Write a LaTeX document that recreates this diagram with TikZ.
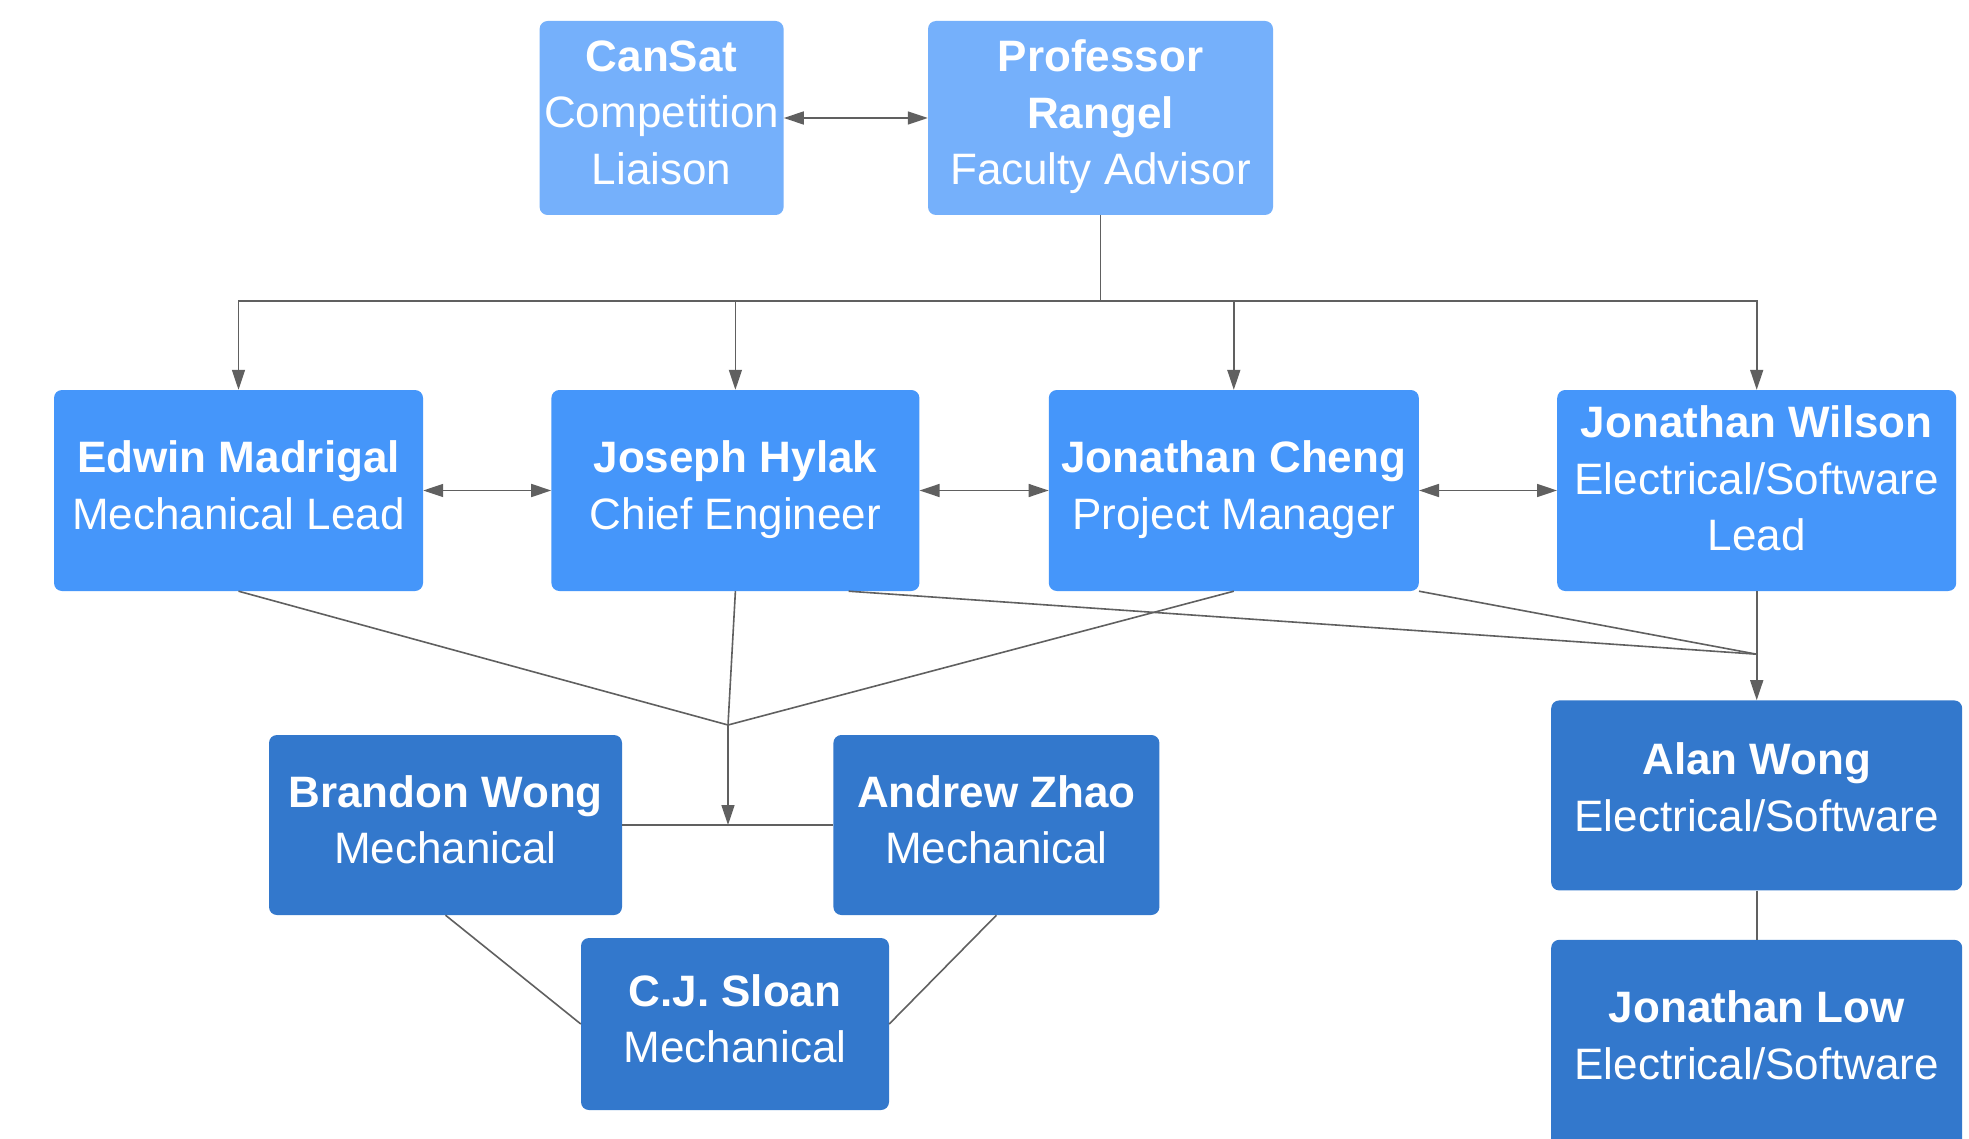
\documentclass[tikz,border=0pt]{standalone}
\usepackage{fontspec}
\setmainfont{Liberation Sans}
\usepackage{xcolor}
\usetikzlibrary{arrows.meta, positioning}

\definecolor{topblue}{RGB}{117,176,251}
\definecolor{leadblue}{RGB}{69,150,250}
\definecolor{teamblue}{RGB}{51,120,204}
\definecolor{linegray}{RGB}{96,96,96}

\begin{document}
\begin{tikzpicture}[
        x=1pt, y=-1pt,
        % Define common styles for nodes
        box/.style={rectangle, rounded corners=8pt, text=white, align=center, inner sep=0pt, font=\fontsize{44}{56.5}\selectfont,
                    execute at end node={\rule[-11pt]{0pt}{0pt}}},
        deep_text/.style={execute at end node={\rule[-#1]{0pt}{0pt}}},
        advisor_box/.style={box, fill=topblue, minimum height=194pt},
        lead_box/.style={box, fill=leadblue, minimum height=201pt},
        member_box/.style={box, fill=teamblue, minimum height=180pt},
        % Styles for the connectors
        link/.style={draw=linegray, line width=1.6pt},
        line/.style={link, -{Triangle[length=20pt, width=13pt]}},
        both_line/.style={link, {Triangle[length=20pt, width=13pt]}-{Triangle[length=20pt, width=13pt]}},
    ]

    \path[use as bounding box, fill=white] (0,0) rectangle (1969,1139);

    % Top row (advisor and liaison)
    \node (rangel) [advisor_box, minimum width=345pt] at (1100.5,118) {\textbf{Professor}\\\textbf{Rangel}\\Faculty Advisor};
    \node (cansat) [advisor_box, minimum width=244pt, left=144pt of rangel] {\textbf{CanSat}\\Competition\\Liaison};

    % Leads
    \node (edwin) [lead_box, minimum width=369pt] at (238.5,490.5) {\textbf{Edwin Madrigal}\\Mechanical Lead};
    \node (joseph) [lead_box, minimum width=368pt, right=128pt of edwin] {\textbf{Joseph Hylak}\\Chief Engineer};
    \node (cheng) [lead_box, minimum width=370pt, right=129pt of joseph] {\textbf{Jonathan Cheng}\\Project Manager};
    \node (wilson) [lead_box, deep_text=24.5pt, minimum width=399pt, right=138pt of cheng] {\textbf{Jonathan Wilson}\\Electrical/Software\\Lead};

    % Mechanical team
    \node (brandon) [member_box, minimum width=353pt] at (445.5,825) {\textbf{Brandon Wong}\\Mechanical};
    \node (andrew) [member_box, minimum width=326pt, right=211pt of brandon] {\textbf{Andrew Zhao}\\Mechanical};
    \node (sloan) [member_box, minimum width=308pt, minimum height=172pt] at (735,1024) {\textbf{C.J. Sloan}\\Mechanical};

    % Electrical/software team
    \node (alan) [member_box, deep_text=16.5pt, minimum width=411pt, minimum height=190pt, below=109pt of wilson] {\textbf{Alan Wong}\\Electrical/Software};
    \node (low) [member_box, deep_text=19.5pt, minimum width=411pt, minimum height=210pt, below=49pt of alan] {\textbf{Jonathan Low}\\Electrical/Software};

    % Junction points
    \coordinate (advisor_split) at ([yshift=-86pt]rangel.south);
    \coordinate (mech_split) at (728,725);
    \coordinate (elec_split) at ([yshift=-63pt]wilson.south);

    % Draw connections/arrows
    \draw[both_line] (cansat.east) -- (rangel.west);

    \draw[line] (rangel.south) -- (advisor_split) -| (edwin.north);
    \draw[line] (rangel.south) -- (advisor_split) -| (joseph.north);
    \draw[line] (rangel.south) -- (advisor_split) -| (cheng.north);
    \draw[line] (rangel.south) -- (advisor_split) -| (wilson.north);

    \draw[both_line] (edwin.east) -- (joseph.west);
    \draw[both_line] (joseph.east) -- (cheng.west);
    \draw[both_line] (cheng.east) -- (wilson.west);

    \draw[link] (edwin.south) -- (mech_split);
    \draw[link] (joseph.south) -- (mech_split);
    \draw[link] (cheng.south) -- (mech_split);
    \draw[link] (brandon.east) -- (andrew.west);
    \draw[line] (mech_split) -- (mech_split |- brandon.east);
    \draw[link] (brandon.south) -- (sloan.west);
    \draw[link] (andrew.south) -- (sloan.east);

    \draw[link] ([xshift=-71pt]joseph.south east) -- (elec_split);
    \draw[link] (cheng.south east) -- (elec_split);
    \draw[line] (wilson.south) -- (alan.north); % passes through elec_split
    \draw[link] (alan.south) -- (low.north);

\end{tikzpicture}
\end{document}
